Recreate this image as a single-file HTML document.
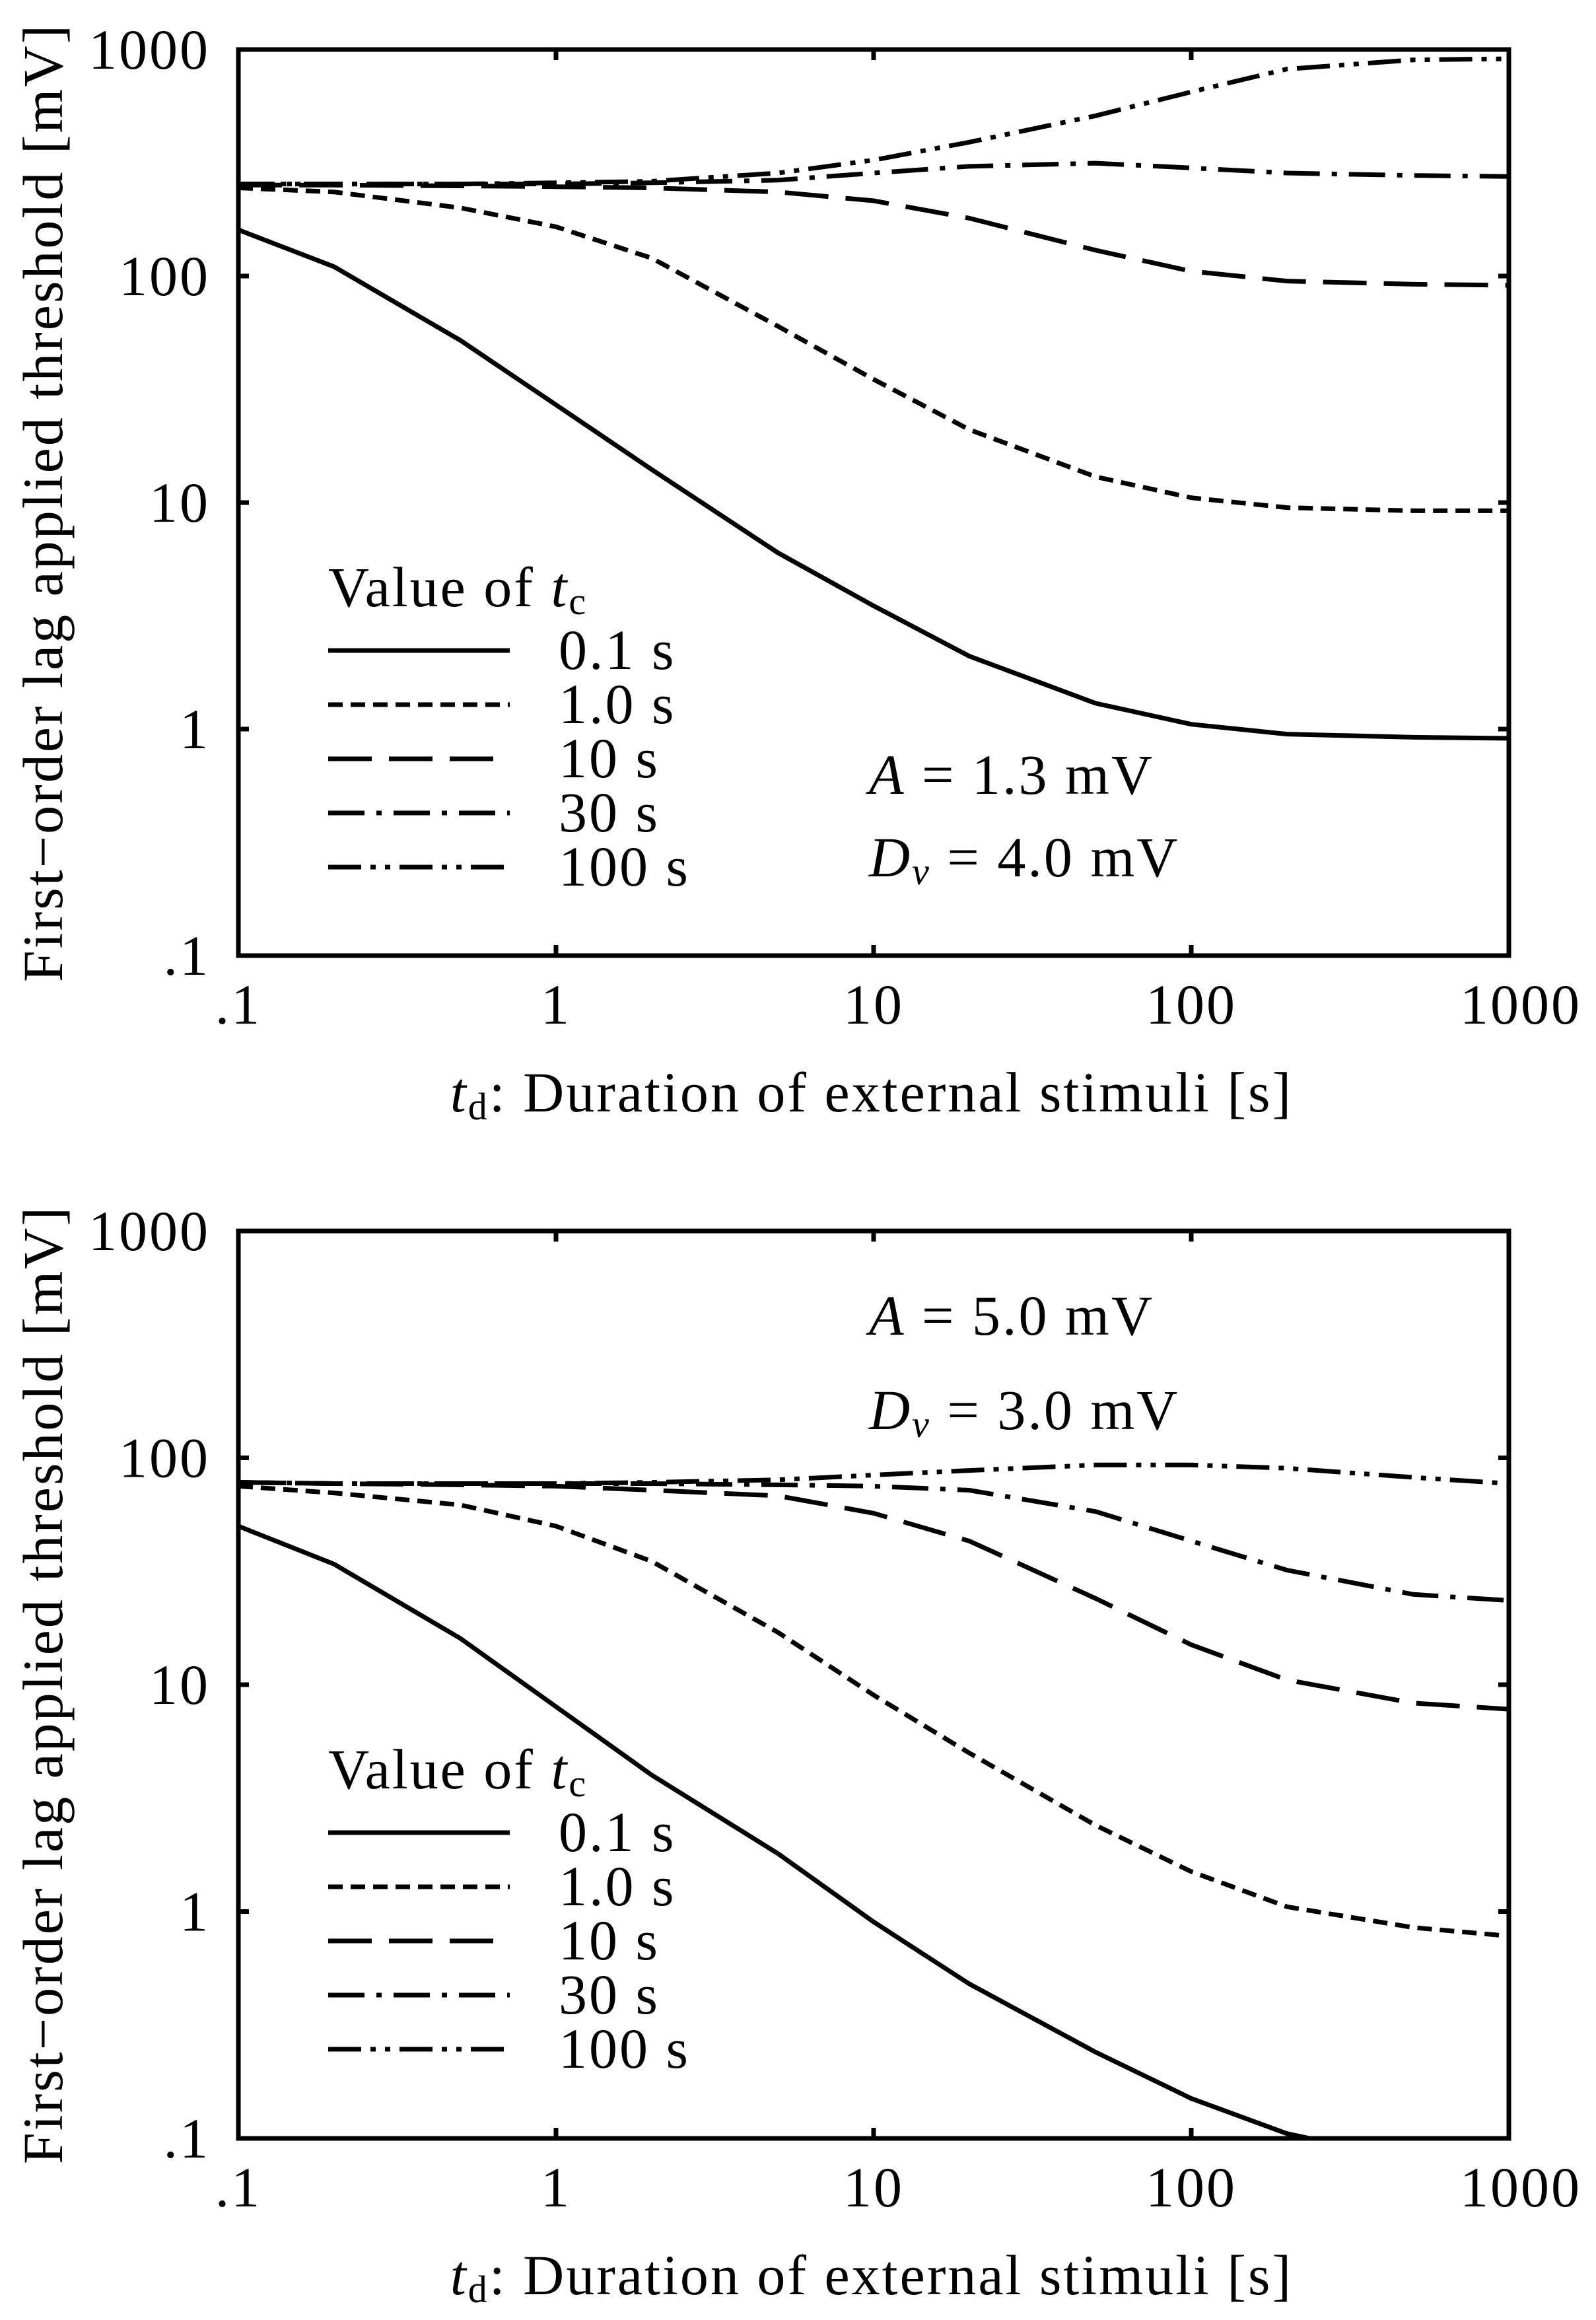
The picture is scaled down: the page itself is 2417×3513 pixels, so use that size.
<!DOCTYPE html>
<html><head><meta charset="utf-8"><style>
html,body{margin:0;padding:0;background:#fff;}
svg{display:block;font-family:"Liberation Serif",serif;}
text{letter-spacing:3px;}
</style></head><body>
<svg id="fig" width="2417" height="3513" viewBox="0 0 2417 3513" xmlns="http://www.w3.org/2000/svg"></svg>
<script>
const xVals = [0.1,0.2,0.5,1,2,5,10,20,50,100,200,500,1000];
const xTicks = [0.1,1,10,100,1000];
const xTickLabels = [".1","1","10","100","1000"];
const yTicks = [0.1,1,10,100,1000];
const yTickLabels = [".1","1","10","100","1000"];
const seriesNames = ["0.1 s","1.0 s","10 s","30 s","100 s"];
const seriesKeys = ["tc-0-1","tc-1-0","tc-10","tc-30","tc-100"];
const dashes = ["none","22 12","66 26","55 18 8 18","50 14 8 14 8 14"];

const top_tc01 = [160,110,52,27,14,6,3.5,2.1,1.3,1.05,0.95,0.92,0.91];
const top_tc1 = [245,235,200,165,120,60,35,21,13,10.5,9.5,9.2,9.2];
const top_tc10 = [252,252,250,248,245,235,215,180,130,105,95,92,91];
const top_tc30 = [255,255,255,255,258,265,285,305,315,300,285,278,275];
const top_tc100 = [255,255,255,258,262,285,325,390,510,650,820,900,910];

const bot_tc01 = [50,34,16,8,4,1.8,0.9,0.48,0.24,0.15,0.105,0.08,0.065];
const bot_tc1 = [75,70,62,50,35,17,9,5,2.4,1.5,1.05,0.85,0.78];
const bot_tc10 = [78,77,76,75,72,68,57,43,24,15,10.5,8.3,7.8];
const bot_tc30 = [78,77,77,77,77,76,75,72,58,43,32,25,23.5];
const bot_tc100 = [78,77,77,77,78,80,84,88,93,93,90,82,77];

const NS="http://www.w3.org/2000/svg";
const svg=document.getElementById('fig');
function mk(tag,attrs,parent){const e=document.createElementNS(NS,tag);for(const k in attrs)e.setAttribute(k,attrs[k]);(parent||svg).appendChild(e);return e;}
const FS=86, SW=7;

function drawPanel(id,top,bottom,series,legendY,annA,annD,annTexts){
  const L=361,R=2285;
  const g=mk('g',{});
  
  
  const xs=v=>L+(Math.log10(v)+1)/4*(R-L);
  const ys=v=>bottom-(Math.log10(v)+1)/4*(bottom-top);
  const cid='clip-'+id;
  const cp=mk('clipPath',{id:cid},g);mk('rect',{x:L,y:top,width:R-L,height:bottom-top},cp);
  xTicks.forEach((t,i)=>{
    const x=xs(t);
    const tk=mk('path',{d:`M${x},${bottom}v-16M${x},${top}v16`,stroke:'#000','stroke-width':SW},g);
    
    
    const tl=mk('text',{x:x+(i==4?18:0),y:bottom+103,'font-size':FS,'text-anchor':'middle'},g);
    tl.textContent=xTickLabels[i];
    
    
  });
  yTicks.forEach((t,i)=>{
    const y=ys(t);
    const tk=mk('path',{d:`M${L},${y}h16M${R},${y}h-16`,stroke:'#000','stroke-width':SW},g);
    
    
    const tl=mk('text',{x:318,y:y+29,'font-size':FS,'text-anchor':'end'},g);
    tl.textContent=yTickLabels[i];
    
    
  });
  series.forEach((vals,si)=>{
    const d=vals.map((v,i)=>(i?'L':'M')+xs(xVals[i]).toFixed(1)+','+ys(v).toFixed(1)).join('');
    const p=mk('path',{d:d,fill:'none',stroke:'#000','stroke-width':SW,'stroke-dasharray':dashes[si],'clip-path':`url(#${cid})`},g);
    
    
  });
  const fr=mk('rect',{x:L,y:top,width:R-L,height:bottom-top,fill:'none',stroke:'#000','stroke-width':7},g);
  
  
  const lg=mk('g',{},g);
  
  
  const lt=mk('text',{x:497,y:legendY,'font-size':FS},lg);
  lt.innerHTML='Value of <tspan font-style="italic">t</tspan><tspan font-size="58" dy="12">c</tspan>';
  
  
  seriesNames.forEach((n,si)=>{
    const y=legendY+67+si*82;
    const ln=mk('line',{x1:497,x2:772,y1:y,y2:y,stroke:'#000','stroke-width':SW,'stroke-dasharray':dashes[si]},lg);
    
    
    const tx=mk('text',{x:846,y:y+28,'font-size':FS},lg);
    tx.textContent=n;
    
    
  });
  const a=mk('text',{x:1316,y:annA,'font-size':FS},g);
  a.innerHTML='<tspan font-style="italic">A</tspan> = '+annTexts[0];
  
  
  const dv=mk('text',{x:1316,y:annD,'font-size':FS},g);
  dv.innerHTML='<tspan font-style="italic">D</tspan><tspan font-style="italic" font-size="58" dy="12">v</tspan><tspan dy="-12"> = '+annTexts[1]+'</tspan>';
  
  
  const xt=mk('text',{x:1320,y:bottom+236,'font-size':FS,'text-anchor':'middle'},g);
  xt.innerHTML='<tspan font-style="italic">t</tspan><tspan font-size="58" dy="12">d</tspan><tspan dy="-12">: Duration of external stimuli [s]</tspan>';
  
  
  const cy=(top+bottom)/2;
  const yt=mk('text',{x:0,y:0,'font-size':FS,'text-anchor':'middle',transform:`translate(94,${cy}) rotate(-90)`},g);
  yt.textContent='First\u2212order lag applied threshold [mV]';
  
  
}
drawPanel('top-panel',75,1447,[top_tc01,top_tc1,top_tc10,top_tc30,top_tc100],918,1202,1327,['1.3 mV','4.0 mV']);
drawPanel('bottom-panel',1864,3238,[bot_tc01,bot_tc1,bot_tc10,bot_tc30,bot_tc100],2708,2021,2164,['5.0 mV','3.0 mV']);
</script>
</body></html>
